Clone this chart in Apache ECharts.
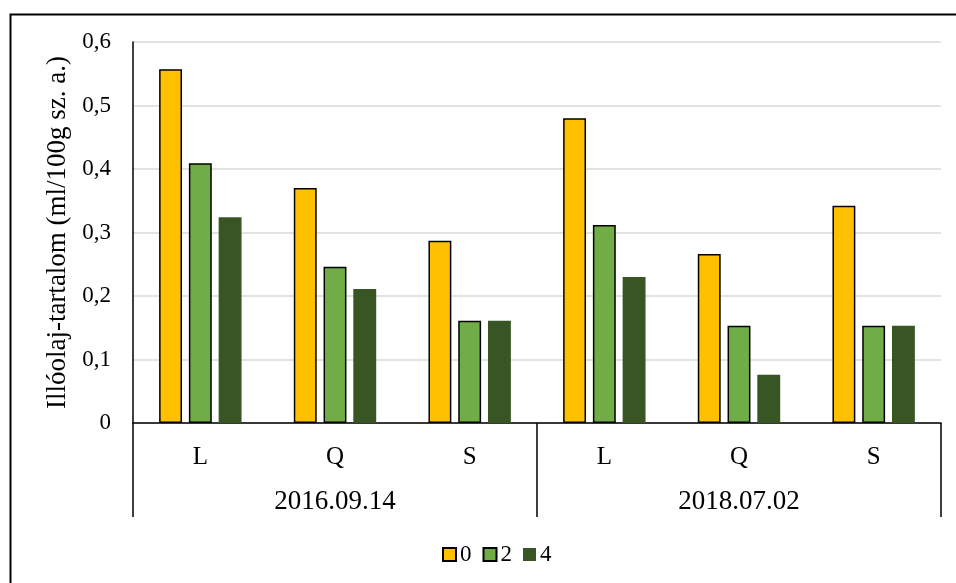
<!DOCTYPE html>
<html>
<head>
<meta charset="utf-8">
<script src="https://cdn.jsdelivr.net/npm/echarts@6/dist/echarts.min.js"></script>
<style>html,body{margin:0;padding:0;background:#fff}#c{width:956px;height:583px}</style>
</head>
<body>
<div id="c"></div>
<script>
const innerCats = ['L', 'Q', 'S', 'L', 'Q', 'S'];
const outerCats = ['2016.09.14', '2018.07.02'];
const seriesNames = ['0', '2', '4'];
const vals0 = [0.557, 0.370, 0.287, 0.480, 0.266, 0.342];
const vals2 = [0.409, 0.246, 0.161, 0.312, 0.153, 0.153];
const vals4 = [0.324, 0.211, 0.161, 0.230, 0.076, 0.153];
const yTicks = [0, 0.1, 0.2, 0.3, 0.4, 0.5, 0.6];

const FONT = 'Liberation Serif';
const chart = echarts.init(document.getElementById('c'));
const colors = ['#FFC000', '#70AD47', '#375623'];
const borders = [{borderColor: '#000', borderWidth: 1.5}, {borderColor: '#000', borderWidth: 1.5}, {borderWidth: 0}];
const data = [vals0, vals2, vals4];

chart.setOption({
  animation: false,
  textStyle: {fontFamily: FONT},
  graphic: [{
    type: 'rect', left: 8, top: 12, shape: {width: 1100, height: 1100},
    style: {fill: 'none', stroke: '#000', lineWidth: 2}
  }],
  grid: {left: 133, right: 15, top: 42, bottom: 160},
  legend: {
    top: 538, left: 437,
    icon: 'rect',
    itemWidth: 13, itemHeight: 13, itemGap: 11,
    textStyle: {fontFamily: FONT, fontSize: 23, color: '#000', padding: [0, 0, 0, -1]},
    data: seriesNames
  },
  xAxis: [{
    type: 'category', data: innerCats, position: 'bottom',
    axisLine: {lineStyle: {color: '#000', width: 1.5}},
    axisTick: {show: false},
    axisLabel: {fontFamily: FONT, fontSize: 25, color: '#000', margin: 22}
  }, {
    type: 'category', data: outerCats, position: 'bottom',
    axisLine: {show: false},
    axisTick: {show: true, length: 94, lineStyle: {color: '#000', width: 1.5}},
    axisLabel: {fontFamily: FONT, fontSize: 27, color: '#000', margin: 65}
  }],
  yAxis: {
    type: 'value', min: 0, max: 0.6, interval: 0.1,
    name: 'Illóolaj-tartalom (ml/100g sz. a.)',
    nameLocation: 'middle', nameRotate: 90, nameGap: 58,
    nameTextStyle: {fontFamily: FONT, fontSize: 27, color: '#000'},
    axisLine: {show: true, lineStyle: {color: '#000', width: 1.5}},
    axisTick: {show: false},
    splitLine: {lineStyle: {color: '#d9d9d9', width: 1.5}},
    axisLabel: {
      fontFamily: FONT, fontSize: 23, color: '#000', margin: 22,
      formatter: v => { const t = yTicks.find(x => Math.abs(x - v) < 1e-9); return (t === undefined ? v : t).toString().replace('.', ','); }
    }
  },
  series: seriesNames.map((n, i) => ({
    name: n, type: 'bar', data: data[i], xAxisIndex: 0,
    barWidth: '17%', barGap: '30%',
    itemStyle: Object.assign({color: colors[i]}, borders[i])
  }))
});
</script>
</body>
</html>
